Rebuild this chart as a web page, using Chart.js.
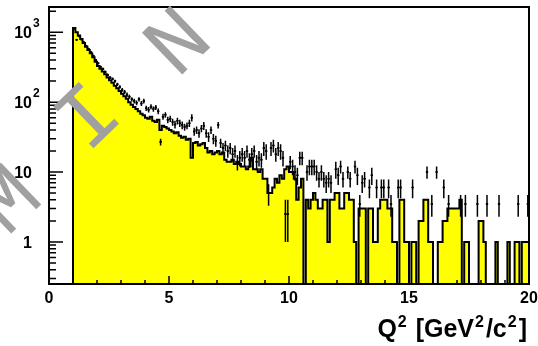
<!DOCTYPE html>
<html>
<head>
<meta charset="utf-8">
<script src="https://cdn.jsdelivr.net/npm/chart.js@4.4.1/dist/chart.umd.min.js"></script>
<style>
  html, body { margin: 0; padding: 0; background: #fff; }
  canvas { display: block; }
</style>
</head>
<body>
<canvas id="q2" width="538" height="346"></canvas>
<script>
// ---- binning: 0.1 GeV^2 bins starting at Q^2 = 1 ----
const binStart = 1.0;
const binWidth = 0.1;

// simulated counts per bin (yellow histogram)
const mcCounts = [
  1150, 1000, 900, 800, 700, 620, 560, 500, 440, 380,
  330, 300, 275, 250, 225, 205, 190, 172, 158, 145,
  132, 122, 112, 100, 92, 85, 80, 74, 68, 65,
  60, 58, 62, 54, 52, 56, 40, 46, 44, 42,
  40, 38, 36, 37, 33, 31, 32, 29, 30, 16,
  26, 27, 24, 25, 26, 22, 19, 20, 18, 19,
  20, 18, 19, 15, 14, 14, 15, 13, 14, 13,
  12, 12, 11, 12, 16, 11, 11, 10, 11, 8,
  8, 5, 5, 6, 8, 7, 9, 8, 11, 12,
  10, 10, 8, 4, 6, 8, 0, 4, 3, 4,
  5, 4, 3, 3, 4, 4, 1, 4, 4, 5,
  5, 3, 3, 5, 5, 4, 4, 1, 0, 3,
  3, 3, 0, 3, 3, 1, 1, 3, 4, 4,
  4, 3, 3, 1, 1, 0, 4, 4, 1, 1,
  0, 1, 1, 0, 2, 2, 4, 4, 1, 1,
  0, 0, 1, 1, 2, 2, 3, 3, 3, 3,
  3, 4, 0, 1, 1, 0, 0, 0, 0, 2,
  2, 1, 0, 0, 0, 0, 1, 0, 0, 0,
  0, 1, 0, 0, 1, 1, 0, 1, 1, 1
];

// measured points per bin (0 = no entry) and their errors
const dataCounts = [
  1120, 780, 880, 790, 720, 640, 580, 520, 460, 400,
  360, 320, 300, 270, 245, 225, 215, 200, 180, 165,
  150, 140, 128, 120, 110, 104, 98, 110, 96, 104,
  82, 78, 86, 80, 84, 74, 27, 62, 66, 56,
  58, 52, 48, 54, 50, 47, 44, 46, 50, 60,
  38, 40, 36, 42, 46, 36, 32, 40, 30, 28,
  47, 26, 22, 24, 20, 22, 18, 20, 14, 16,
  18, 16, 20, 15, 18, 20, 14, 16, 15, 22,
  20, 5, 22, 24, 18, 22, 20, 16, 2.5, 2.5,
  14, 12, 10, 9, 16, 16, 0, 10, 12, 12,
  12, 10, 8, 10, 8, 7, 8, 7, 0, 11,
  9, 12, 8, 0, 10, 8, 0, 12, 9, 3.5,
  7, 8, 0, 6, 9, 0, 6, 0, 6, 6,
  0, 6, 3.5, 0, 0, 6, 6, 0, 0, 0,
  0, 6, 0, 0, 0, 0, 0, 10, 0, 3.5,
  0, 10, 0, 0, 6, 0, 3.5, 0, 0, 0,
  0, 3.5, 0, 3.5, 0, 0, 0, 0, 3.5, 0,
  0, 0, 3.5, 0, 0, 0, 0, 3.5, 0, 0,
  0, 0, 0, 0, 0, 3.5, 0, 0, 0, 3.5
];

const dataErrors = [
  34, 24, 27, 24, 22, 20, 18, 17, 15, 14,
  13, 12, 12, 11, 10, 10, 10, 10, 9, 9,
  9, 9, 9, 8, 8, 8, 8, 8, 8, 8,
  7, 7, 7, 7, 7, 7, 3, 6, 6, 6,
  6, 6, 6, 6, 6, 6, 5, 5, 6, 7,
  5, 5, 5, 5, 6, 5, 5, 5, 5, 5,
  5, 4, 4, 4, 4, 4, 4, 4, 3.5, 4,
  4, 4, 4, 3.5, 4, 4, 3.5, 4, 3.5, 5,
  5, 1.7, 5, 5, 4, 5, 5, 4, 1.5, 1.5,
  3, 3, 2.5, 2.5, 3.5, 3.5, 0, 2.5, 3, 3,
  3, 2.5, 2, 2.5, 2, 2, 2, 2, 0, 3,
  2.5, 2.5, 2, 0, 2, 2, 0, 2.5, 2.5, 1.2,
  2, 2, 0, 1.8, 2.5, 0, 1.8, 0, 1.8, 1.8,
  0, 1.8, 1.2, 0, 0, 1.8, 1.8, 0, 0, 0,
  0, 1.8, 0, 0, 0, 0, 0, 2, 0, 1.2,
  0, 2, 0, 0, 1.8, 0, 1.2, 0, 0, 0,
  0, 1.2, 0, 1.2, 0, 0, 0, 0, 1.2, 0,
  0, 0, 1.2, 0, 0, 0, 0, 1.2, 0, 0,
  0, 0, 0, 0, 0, 1.2, 0, 0, 0, 1.2
];

// axis ticks and labels
const xRange = [0, 20];
const yRange = [0.25, 2300];
const xTicks = [0, 5, 10, 15, 20];
const yTicks = [1, 10, 100, 1000];
const yTickBase = ['1', '10', '10', '10'];
const yTickExp = ['', '', '2', '3'];
const xTitleParts = [['Q', false], ['2', true], [' [GeV', false], ['2', true], ['/c', false], ['2', true], [']', false]];
const watermark = ['M', 'I', 'N'];

// ---- histogram outline: points at bin low edges, stepped ----
const FLOOR = 1e-3;   // empty bins fall below the frame
const mcPoints = [{ x: binStart, y: FLOOR }];
mcCounts.forEach((v, i) => mcPoints.push({ x: binStart + i * binWidth, y: v > 0 ? v : FLOOR }));
const binEnd = binStart + mcCounts.length * binWidth;
const lastVal = mcCounts[mcCounts.length - 1];
mcPoints.push({ x: binEnd, y: lastVal > 0 ? lastVal : FLOOR });
mcPoints.push({ x: binEnd, y: FLOOR });

const dataPoints = [];
dataCounts.forEach((v, i) => {
  if (v > 0) dataPoints.push({ x: binStart + (i + 0.5) * binWidth, y: v });
});

const BOLD = '"Liberation Sans", Arial, Helvetica, sans-serif';

// ---- error bars for the measured points ----
const errorBars = {
  id: 'errorBars',
  afterDatasetsDraw(chart) {
    const { ctx, chartArea: a, scales: { x, y } } = chart;
    ctx.save();
    ctx.beginPath();
    ctx.rect(a.left, a.top, a.right - a.left, a.bottom - a.top);
    ctx.clip();
    ctx.strokeStyle = '#000';
    ctx.lineWidth = 1.5;
    ctx.beginPath();
    dataCounts.forEach((v, i) => {
      if (!(v > 0)) return;
      const lo = binStart + i * binWidth;
      const xc = x.getPixelForValue(lo + binWidth / 2);
      const e = dataErrors[i];
      const yHi = y.getPixelForValue(v + e);
      const yLo = v - e > 0 ? y.getPixelForValue(v - e) : a.bottom;
      ctx.moveTo(xc, yHi);
      ctx.lineTo(xc, yLo);
      const yc = y.getPixelForValue(v);
      ctx.moveTo(x.getPixelForValue(lo), yc);
      ctx.lineTo(x.getPixelForValue(lo + binWidth), yc);
    });
    ctx.stroke();
    ctx.restore();
  }
};

// ---- ROOT-style frame, inside ticks and labels ----
const rootAxes = {
  id: 'rootAxes',
  afterDatasetsDraw(chart) {
    const { ctx, chartArea: a, scales: { x, y } } = chart;
    ctx.save();
    ctx.strokeStyle = '#000';
    ctx.lineWidth = 2;
    ctx.strokeRect(a.left, a.top, a.right - a.left, a.bottom - a.top);

    // x ticks: majors every 5, minors every 1
    ctx.lineWidth = 1.5;
    ctx.beginPath();
    for (let q = xRange[0]; q <= xRange[1]; q++) {
      const px = x.getPixelForValue(q);
      const len = q % 5 === 0 ? 8 : 4;
      ctx.moveTo(px, a.bottom);
      ctx.lineTo(px, a.bottom - len);
    }
    // y ticks: decades long, 2..9 short
    for (let d = -1; d <= 3; d++) {
      for (let m = 1; m <= 9; m++) {
        const v = m * Math.pow(10, d);
        if (v < yRange[0] || v > yRange[1]) continue;
        const py = y.getPixelForValue(v);
        const len = m === 1 ? 14 : 7;
        ctx.moveTo(a.left, py);
        ctx.lineTo(a.left + len, py);
      }
    }
    ctx.stroke();

    ctx.fillStyle = '#000';
    ctx.font = 'bold 16px ' + BOLD;
    ctx.textAlign = 'center';
    ctx.textBaseline = 'alphabetic';
    xTicks.forEach(t => ctx.fillText(String(t), x.getPixelForValue(t), 303));

    yTicks.forEach((t, i) => {
      const py = y.getPixelForValue(t);
      ctx.font = 'bold 16px ' + BOLD;
      ctx.textAlign = 'right';
      ctx.fillText(yTickBase[i], a.left - 17, py + 6);
      if (yTickExp[i]) {
        ctx.font = 'bold 12px ' + BOLD;
        ctx.textAlign = 'left';
        ctx.fillText(yTickExp[i], a.left - 16, py - 5);
      }
    });

    // axis title, right aligned under the frame
    const big = 'bold 25px ' + BOLD, small = 'bold 16px ' + BOLD;
    let w = 0;
    xTitleParts.forEach(([s, sup]) => {
      ctx.font = sup ? small : big;
      w += ctx.measureText(s).width + (sup ? 3 : 0);
    });
    let cx = a.right - 2 - w;
    ctx.textAlign = 'left';
    xTitleParts.forEach(([s, sup]) => {
      ctx.font = sup ? small : big;
      if (sup) {
        ctx.fillText(s, cx + 1, 327);
        cx += ctx.measureText(s).width + 3;
      } else {
        ctx.fillText(s, cx, 337);
        cx += ctx.measureText(s).width;
      }
    });
    ctx.restore();
  }
};

// ---- grey diagonal letters across the upper left ----
const stamp = {
  id: 'stamp',
  afterDraw(chart) {
    const ctx = chart.ctx;
    const centres = [[6, 198], [86, 115], [176, 40]];
    ctx.save();
    ctx.fillStyle = '#a0a0a0';
    ctx.font = '88px "Liberation Mono", "DejaVu Sans Mono", monospace';
    ctx.textAlign = 'center';
    ctx.textBaseline = 'alphabetic';
    watermark.forEach((ch, i) => {
      ctx.save();
      ctx.translate(centres[i][0], centres[i][1]);
      ctx.rotate(-44 * Math.PI / 180);
      ctx.fillText(ch, 0, 29);
      ctx.restore();
    });
    ctx.restore();
  }
};

new Chart(document.getElementById('q2'), {
  type: 'line',
  data: {
    datasets: [
      {
        type: 'scatter',
        data: dataPoints,
        pointRadius: 1,
        pointBorderWidth: 0,
        pointBackgroundColor: '#000',
        showLine: false,
        order: 0
      },
      {
        type: 'line',
        data: mcPoints,
        stepped: true,
        fill: 'start',
        backgroundColor: '#ffff00',
        borderColor: '#000',
        borderWidth: 2,
        pointRadius: 0,
        tension: 0,
        clip: 0,
        order: 1
      }
    ]
  },
  options: {
    responsive: false,
    animation: false,
    events: [],
    layout: { padding: { left: 49, right: 9, top: 7, bottom: 62 } },
    scales: {
      x: { type: 'linear', min: xRange[0], max: xRange[1], display: false },
      y: { type: 'logarithmic', min: yRange[0], max: yRange[1], display: false }
    },
    plugins: { legend: { display: false }, tooltip: { enabled: false } }
  },
  plugins: [errorBars, rootAxes, stamp]
});
</script>
</body>
</html>
